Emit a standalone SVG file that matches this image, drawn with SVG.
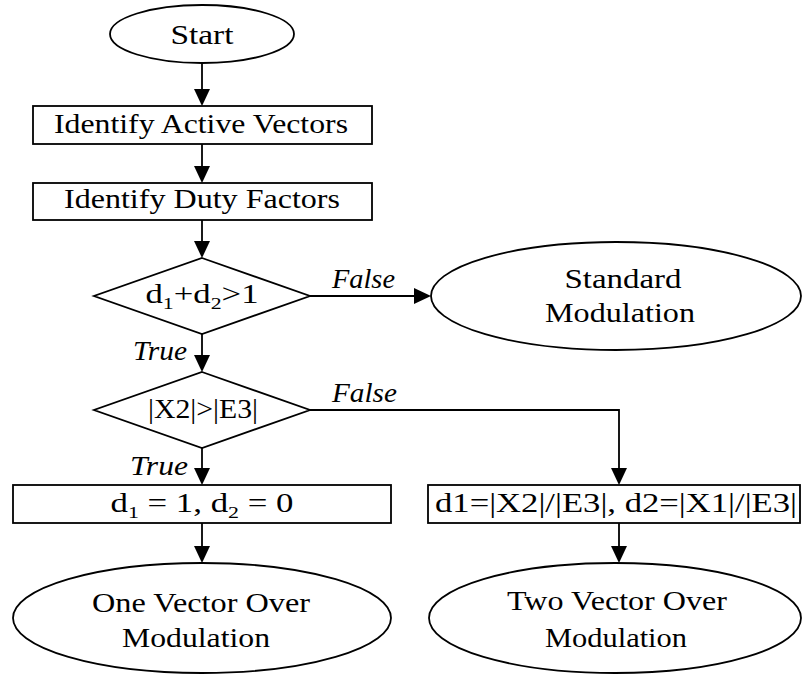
<svg xmlns="http://www.w3.org/2000/svg" width="802" height="677" viewBox="0 0 802 677" font-family="Liberation Serif, Times New Roman, DejaVu Serif, serif">
<style>
.s{fill:#fff;stroke:#000;stroke-width:1.8}
.t{font-size:27px;fill:#000;text-anchor:middle}
.i{font-size:27px;font-style:italic;fill:#000}
.c{fill:none;stroke:#000;stroke-width:1.8}
.sub{font-size:17px}
</style>
<defs>
<marker id="ah" markerWidth="17" markerHeight="17" refX="13" refY="8.5" orient="auto" markerUnits="userSpaceOnUse">
<path d="M0,0.5 L17,8.5 L0,16.5 Z" fill="#000"/>
</marker>
</defs>
<g id="connectors">
<path class="c" d="M202,63 V102" marker-end="url(#ah)"/>
<path class="c" d="M202,144 V179" marker-end="url(#ah)"/>
<path class="c" d="M202,220 V254" marker-end="url(#ah)"/>
<path class="c" d="M310,296 H427" marker-end="url(#ah)"/>
<path class="c" d="M202,334 V368" marker-end="url(#ah)"/>
<path class="c" d="M310,410 H619 V481" marker-end="url(#ah)"/>
<path class="c" d="M202,448 V481" marker-end="url(#ah)"/>
<path class="c" d="M202,523 V559" marker-end="url(#ah)"/>
<path class="c" d="M619,523 V559" marker-end="url(#ah)"/>
<text class="i" x="332" y="288" textLength="63" lengthAdjust="spacingAndGlyphs">False</text>
<text class="i" x="133" y="360" textLength="54" lengthAdjust="spacingAndGlyphs">True</text>
<text class="i" x="332" y="402" textLength="65" lengthAdjust="spacingAndGlyphs">False</text>
<text class="i" x="130" y="475" textLength="58" lengthAdjust="spacingAndGlyphs">True</text>
</g>
<g id="start">
<ellipse class="s" cx="202" cy="34" rx="92" ry="29"/>
<text class="t" x="202" y="44" textLength="63" lengthAdjust="spacingAndGlyphs">Start</text>
</g>
<g id="identify-active">
<rect class="s" x="33" y="106" width="339" height="38"/>
<text class="t" x="201" y="133" textLength="294" lengthAdjust="spacingAndGlyphs">Identify Active Vectors</text>
</g>
<g id="identify-duty">
<rect class="s" x="33" y="183" width="339" height="37"/>
<text class="t" x="202" y="208" textLength="276" lengthAdjust="spacingAndGlyphs">Identify Duty Factors</text>
</g>
<g id="decision1">
<polygon class="s" points="202,258 310,296 202,334 94,296"/>
<text class="t" x="202" y="303" textLength="113" lengthAdjust="spacingAndGlyphs">d<tspan class="sub" dy="6">1</tspan><tspan dy="-6">+d</tspan><tspan class="sub" dy="6">2</tspan><tspan dy="-6">&gt;1</tspan></text>
</g>
<g id="standard">
<ellipse class="s" cx="616" cy="296" rx="185" ry="54"/>
<text class="t" x="623" y="288" textLength="117" lengthAdjust="spacingAndGlyphs">Standard</text>
<text class="t" x="620" y="322" textLength="150" lengthAdjust="spacingAndGlyphs">Modulation</text>
</g>
<g id="decision2">
<polygon class="s" points="202,372 310,410 202,448 94,410"/>
<text class="t" x="203" y="418" textLength="110" lengthAdjust="spacingAndGlyphs">|X2|&gt;|E3|</text>
</g>
<g id="one-vector-assign">
<rect class="s" x="13" y="485" width="378" height="38"/>
<text class="t" x="202" y="512" textLength="183" lengthAdjust="spacingAndGlyphs">d<tspan class="sub" dy="6">1</tspan><tspan dy="-6"> = 1, d</tspan><tspan class="sub" dy="6">2</tspan><tspan dy="-6"> = 0</tspan></text>
</g>
<g id="two-vector-assign">
<rect class="s" x="428" y="485" width="372" height="38"/>
<text class="t" x="616" y="512" textLength="362" lengthAdjust="spacingAndGlyphs">d1=|X2|/|E3|, d2=|X1|/|E3|</text>
</g>
<g id="one-vector">
<ellipse class="s" cx="202" cy="618" rx="189" ry="55"/>
<text class="t" x="201" y="612" textLength="218" lengthAdjust="spacingAndGlyphs">One Vector Over</text>
<text class="t" x="196" y="647" textLength="148" lengthAdjust="spacingAndGlyphs">Modulation</text>
</g>
<g id="two-vector">
<ellipse class="s" cx="615" cy="618" rx="186" ry="55"/>
<text class="t" x="617" y="610" textLength="220" lengthAdjust="spacingAndGlyphs">Two Vector Over</text>
<text class="t" x="616" y="647" textLength="142" lengthAdjust="spacingAndGlyphs">Modulation</text>
</g>
</svg>
